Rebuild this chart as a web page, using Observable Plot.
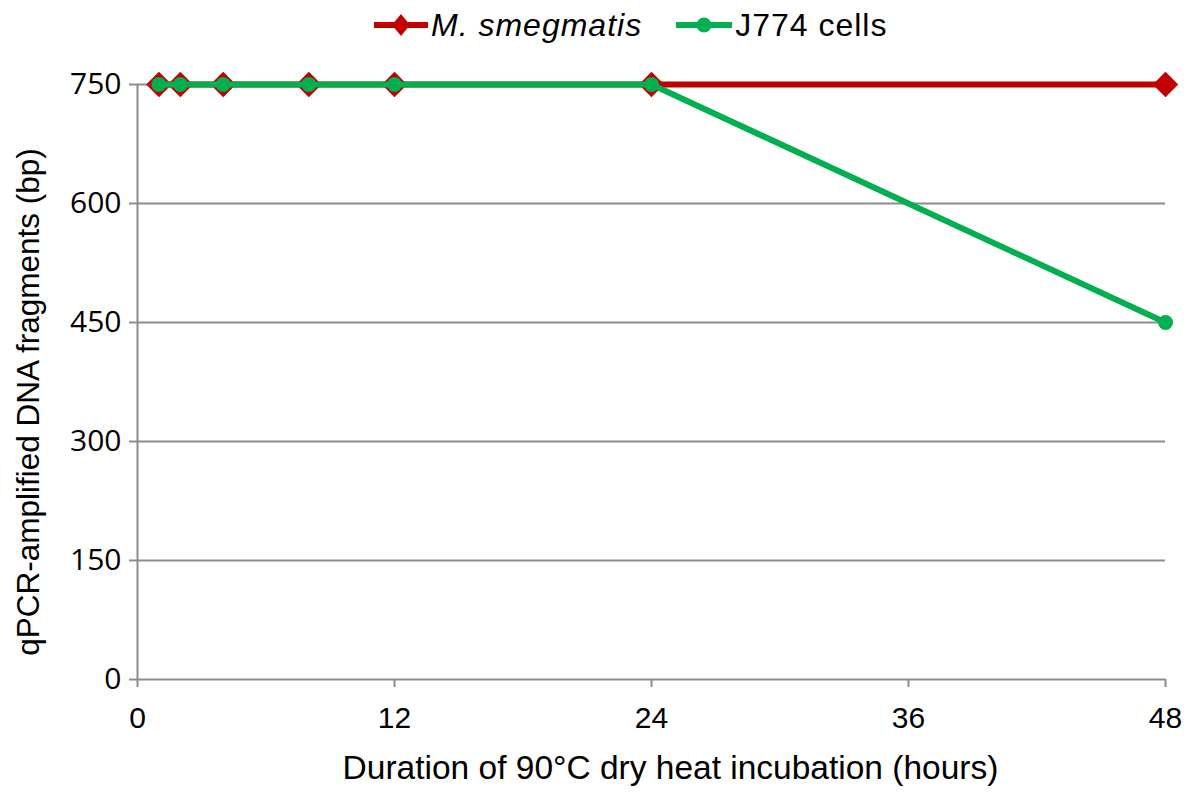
<!DOCTYPE html>
<html><head><meta charset="utf-8">
<script src="https://cdn.jsdelivr.net/npm/d3@7"></script>
<script src="https://cdn.jsdelivr.net/npm/@observablehq/plot@0.6"></script>
<style>
body{margin:0;background:#fff;font-family:"Liberation Sans",Arial,sans-serif;position:relative}
#legend{position:absolute;top:0;left:374px;height:50px;display:flex;align-items:center;font-size:32px;letter-spacing:1px;color:#000}
.item{display:flex;align-items:center}
svg.key{margin-right:3px}
#chart{padding-top:45px}
</style></head><body>
<div id="legend"></div>
<div id="chart"></div>
<script>
const hours = [1, 2, 4, 8, 12, 24, 48];
const smegmatis = [750, 750, 750, 750, 750, 750, 750];
const j774 = [750, 750, 750, 750, 750, 750, 450];
const seriesNames = ["M. smegmatis", "J774 cells"];
const seriesColors = ["#c00000", "#00b050"];
const xTicks = [0, 12, 24, 36, 48];
const yTicks = [0, 150, 300, 450, 600, 750];
const xTitle = "Duration of 90°C dry heat incubation (hours)";
const yTitle = "qPCR-amplified DNA fragments (bp)";

const dataS = hours.map((h, i) => ({x: h, y: smegmatis[i]}));
const dataJ = hours.map((h, i) => ({x: h, y: j774[i]}));

const legend = document.getElementById("legend");
legend.innerHTML = `
<div class="item"><svg class="key" width="54" height="26"><line x1="0" x2="54" y1="13" y2="13" stroke="${seriesColors[0]}" stroke-width="6"/><path d="M27 2 L36 13 L27 24 L18 13Z" fill="${seriesColors[0]}"/></svg><i>${seriesNames[0]}</i></div>
<div class="item" style="margin-left:34px"><svg class="key" width="56" height="26"><line x1="0" x2="56" y1="13" y2="13" stroke="${seriesColors[1]}" stroke-width="6"/><circle cx="28" cy="13" r="7.5" fill="${seriesColors[1]}"/></svg>${seriesNames[1]}</div>`;

const grey = "#8c8c8c";
const chart = Plot.plot({
  width: 1200, height: 750,
  marginLeft: 137, marginRight: 35, marginTop: 39, marginBottom: 116,
  style: {fontFamily: "'Liberation Sans', Arial, sans-serif", fontSize: "30px", color: "#000", background: "#fff"},
  x: {domain: [0, 48]},
  y: {domain: [0, 750]},
  marks: [
    Plot.ruleY(yTicks.filter(d => d > 0), {x1: 0, x2: 48, stroke: grey, strokeWidth: 2}),
    Plot.ruleX([0], {stroke: grey, strokeWidth: 2}),
    Plot.ruleY([0], {stroke: grey, strokeWidth: 2}),
    Plot.axisX({ticks: xTicks, tickSize: 8, tickPadding: 19, stroke: grey, strokeWidth: 2, tickFormat: d => d, fontSize: 30,
      fontFamily: "'Liberation Sans', Arial, sans-serif", label: null, fill: "#000"}),
    Plot.axisY({ticks: yTicks, tickSize: 8, tickPadding: 8, stroke: grey, strokeWidth: 2, tickFormat: d => d, fontSize: 30,
      fontFamily: "'Open Sans', sans-serif", label: null, fill: "#000"}),
    Plot.text([xTitle], {frameAnchor: "bottom", text: d => d, dx: 19, dy: 89, fontSize: 33.5, fill: "#000", lineAnchor: "middle", textAnchor: "middle"}),
    Plot.text([yTitle], {frameAnchor: "left", text: d => d, dx: -109, dy: 20, rotate: -90, fontSize: 31.5, fill: "#000", lineAnchor: "middle", textAnchor: "middle"}),
    Plot.line(dataS, {x: "x", y: "y", stroke: seriesColors[0], strokeWidth: 6}),
    Plot.dot(dataS, {x: "x", y: "y", symbol: "diamond2", r: 11.5, fill: seriesColors[0]}),
    Plot.line(dataJ, {x: "x", y: "y", stroke: seriesColors[1], strokeWidth: 6}),
    Plot.dot(dataJ, {x: "x", y: "y", r: 7.5, fill: seriesColors[1]})
  ]
});
document.getElementById("chart").appendChild(chart);
</script>
</body></html>
